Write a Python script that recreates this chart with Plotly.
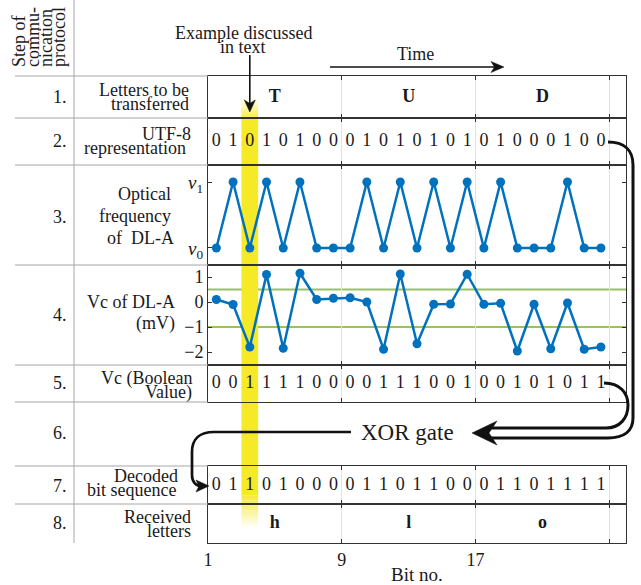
import plotly.graph_objects as go
from plotly.subplots import make_subplots

# ---------------- data ----------------
bit_no = list(range(1, 25))
utf8_bits = [0, 1, 0, 1, 0, 1, 0, 0,
             0, 1, 0, 1, 0, 1, 0, 1,
             0, 1, 0, 0, 0, 1, 0, 0]
vc_mv = [0.10, -0.10, -1.80, 1.10, -1.85, 1.15, 0.10, 0.15,
         0.17, 0.00, -1.89, 1.12, -1.67, -0.09, -0.08, 1.11,
         -0.09, -0.05, -1.96, -0.09, -1.87, -0.04, -1.89, -1.80]
vc_bool = [0, 0, 1, 1, 1, 1, 0, 0,
           0, 0, 1, 1, 1, 0, 0, 1,
           0, 0, 1, 0, 1, 0, 1, 1]
decoded_bits = [0, 1, 1, 0, 1, 0, 0, 0,
                0, 1, 1, 0, 1, 1, 0, 0,
                0, 1, 1, 0, 1, 1, 1, 1]
sent_letters = ["T", "U", "D"]
received_letters = ["h", "l", "o"]
thresholds_mv = [0.5, -1.0]
example_bit = 3
x_ticks = [1, 9, 17, 25]
x_ticktext = ["1", "9", "17", " "]

row_numbers = ["1.", "2.", "3.", "4.", "5.", "6.", "7.", "8."]

# ---------------- layout constants ----------------
W, H = 641, 585
ML, MR, MT, MB = 208, 15, 76, 42
PW, PH = W - ML - MR, H - MT - MB
SERIF = "Liberation Serif"
INK = "#1a1a1a"
BLUE = "#0072BD"
FS = 18
row_px = [42, 47, 100, 100, 37, 64, 38, 39]
bounds = [MT]
for h in row_px:
    bounds.append(bounds[-1] + h)


def px(x):
    return (x - ML) / PW


def py(y):
    return (H - MB - y) / PH


def P(x, y):
    return f"{px(x):.5f},{py(y):.5f}"


def data_px(xv):
    return ML + (xv - 1) / 25 * PW


xpos = [b + 0.5 for b in bit_no]
letter_x = [sum(xpos[8 * i:8 * i + 8]) / 8 for i in range(3)]

fig = make_subplots(rows=8, cols=1, shared_xaxes=True, vertical_spacing=0,
                    row_heights=row_px)


def text_row(vals, row, size=FS, bold=False, x=None):
    t = [f"<b>{v}</b>" if bold else str(v) for v in vals]
    fig.add_trace(go.Scatter(x=x if x is not None else xpos, y=[0.5] * len(vals),
                             mode="text", text=t, textposition="middle center",
                             textfont=dict(family=SERIF, size=size, color=INK),
                             hoverinfo="skip", showlegend=False), row=row, col=1)


text_row(sent_letters, 1, size=18, bold=True, x=letter_x)
text_row(utf8_bits, 2)
fig.add_trace(go.Scatter(x=xpos, y=utf8_bits, mode="lines+markers",
                         line=dict(color=BLUE, width=2.5),
                         marker=dict(color=BLUE, size=9),
                         showlegend=False), row=3, col=1)
fig.add_trace(go.Scatter(x=xpos, y=vc_mv, mode="lines+markers",
                         line=dict(color=BLUE, width=2.5),
                         marker=dict(color=BLUE, size=9),
                         showlegend=False), row=4, col=1)
for t in thresholds_mv:
    fig.add_hline(y=t, row=4, col=1, layer="below",
                  line=dict(color="rgba(119,172,48,0.75)", width=2))
text_row(vc_bool, 5)
text_row(decoded_bits, 7)
text_row(received_letters, 8, size=18, bold=True, x=letter_x)

# ---------------- axes ----------------
for i in range(1, 9):
    fig.update_xaxes(row=i, col=1, range=[1, 26], tickvals=x_ticks, ticktext=x_ticktext,
                     ticks="inside", ticklen=4, tickcolor="#333",
                     showline=True, linecolor="#333", linewidth=1, mirror="ticks",
                     showgrid=True, gridcolor="#e2e2e2", gridwidth=1, zeroline=False,
                     showticklabels=(i == 8),
                     tickfont=dict(family=SERIF, size=FS, color=INK))
    if i in (3, 4):
        continue
    fig.update_yaxes(row=i, col=1, range=[0, 1], showticklabels=False, ticks="",
                     showgrid=False, zeroline=False, showline=True,
                     linecolor="#333", mirror=True)

fig.update_yaxes(row=3, col=1, range=[-0.258, 1.258], tickvals=[0, 1],
                 ticktext=["<i>ν</i><sub>0</sub>", "<i>ν</i><sub>1</sub>"],
                 ticks="inside", ticklen=4, tickcolor="#333", showline=True,
                 linecolor="#333", mirror="ticks", showgrid=False, zeroline=False,
                 tickfont=dict(family=SERIF, size=19, color=INK))
fig.update_yaxes(row=4, col=1, range=[-2.52, 1.48], tickvals=[-2, -1, 0, 1],
                 ticktext=["−2", "−1", "0", "1"],
                 ticks="inside", ticklen=4, tickcolor="#333", showline=True,
                 linecolor="#333", mirror="ticks", showgrid=False, zeroline=False,
                 tickfont=dict(family=SERIF, size=FS, color=INK))

shapes = []
# ---------------- yellow highlight ----------------
YEL = (246, 233, 40)
top_a, top_b, bot_a, bot_b = 98, 120, 493, 528
shapes.append(dict(type="rect", xref="x", yref="paper", x0=example_bit, x1=example_bit + 1,
                   y0=py(top_b), y1=py(bot_a), fillcolor=f"rgb{YEL}", line_width=0,
                   layer="below"))
n = 14
for k in range(n):
    a = (k + 0.5) / n
    y0 = top_a + (top_b - top_a) * k / n
    y1 = top_a + (top_b - top_a) * (k + 1) / n
    shapes.append(dict(type="rect", xref="x", yref="paper", x0=example_bit, x1=example_bit + 1,
                       y0=py(y1), y1=py(y0), fillcolor=f"rgba({YEL[0]},{YEL[1]},{YEL[2]},{a:.3f})",
                       line_width=0, layer="below"))
    b0 = bot_a + (bot_b - bot_a) * k / n
    b1 = bot_a + (bot_b - bot_a) * (k + 1) / n
    shapes.append(dict(type="rect", xref="x", yref="paper", x0=example_bit, x1=example_bit + 1,
                       y0=py(b1), y1=py(b0), fillcolor=f"rgba({YEL[0]},{YEL[1]},{YEL[2]},{1 - a:.3f})",
                       line_width=0, layer="below"))

# ---------------- left table ----------------
GRAY = "#a6a6a6"
shapes.append(dict(type="line", xref="paper", yref="paper", x0=px(74), x1=px(74),
                   y0=py(0), y1=py(bounds[-1]), line=dict(color=GRAY, width=1)))
for b in bounds[:-1]:
    shapes.append(dict(type="line", xref="paper", yref="paper", x0=px(15), x1=px(ML),
                       y0=py(b), y1=py(b), line=dict(color=GRAY, width=1)))

# ---------------- arrows ----------------
BLK = "#111"
ex_x = data_px(example_bit + 0.5)
shapes.append(dict(type="line", xref="paper", yref="paper", x0=px(ex_x), x1=px(ex_x),
                   y0=py(55), y1=py(106), line=dict(color=BLK, width=1.6)))
shapes.append(dict(type="path", xref="paper", yref="paper",
                   path=f"M{P(ex_x, 112)} L{P(ex_x - 5.5, 100)} L{P(ex_x, 103.5)} L{P(ex_x + 5.5, 100)} Z",
                   fillcolor=BLK, line=dict(color=BLK, width=0.5)))
# time arrow
shapes.append(dict(type="line", xref="paper", yref="paper", x0=px(330), x1=px(496),
                   y0=py(67), y1=py(67), line=dict(color=BLK, width=1.6)))
shapes.append(dict(type="path", xref="paper", yref="paper",
                   path=f"M{P(504, 67)} L{P(491, 61.5)} L{P(494.5, 67)} L{P(491, 72.5)} Z",
                   fillcolor=BLK, line=dict(color=BLK, width=0.5)))
# outer line from UTF-8 row to XOR gate
shapes.append(dict(type="path", xref="paper", yref="paper",
                   path=(f"M{P(608, 142)} C{P(624, 142)} {P(633, 150)} {P(633, 165)} "
                         f"L{P(633, 418)} C{P(633, 431)} {P(624, 438)} {P(608, 438)} L{P(490, 438)}"),
                   line=dict(color=BLK, width=3)))
# inner line from Vc Boolean row
shapes.append(dict(type="path", xref="paper", yref="paper",
                   path=(f"M{P(604, 383)} C{P(620, 383)} {P(628, 393)} {P(628, 405)} "
                         f"C{P(628, 418)} {P(620, 428)} {P(606, 428)} L{P(490, 428)}"),
                   line=dict(color=BLK, width=3)))
shapes.append(dict(type="path", xref="paper", yref="paper",
                   path=f"M{P(472, 433)} L{P(497, 421)} L{P(489, 433)} L{P(497, 445)} Z",
                   fillcolor=BLK, line=dict(color=BLK, width=0.5)))
# from XOR gate to decoded bits
shapes.append(dict(type="path", xref="paper", yref="paper",
                   path=(f"M{P(351, 432)} L{P(214, 432)} C{P(200, 432)} {P(192, 439)} {P(192, 452)} "
                         f"L{P(192, 475)} C{P(192, 482)} {P(196, 486)} {P(201, 486)}"),
                   line=dict(color=BLK, width=2.7)))
shapes.append(dict(type="path", xref="paper", yref="paper",
                   path=f"M{P(209, 486)} L{P(196, 480)} L{P(199, 486)} L{P(196, 492)} Z",
                   fillcolor=BLK, line=dict(color=BLK, width=0.5)))

fig.update_layout(shapes=list(fig.layout.shapes) + shapes)


# ---------------- annotations ----------------
def ann(text, x, y, xanchor="right", size=FS, angle=0, yanchor="middle", color=INK):
    fig.add_annotation(xref="paper", yref="paper", x=px(x), y=py(y), text=text,
                       xanchor=xanchor, yanchor=yanchor, showarrow=False, textangle=angle,
                       font=dict(family=SERIF, size=size, color=color))


for lbl, cx in zip(["Step of", "commu-", "nication", "protocol"], [19, 33, 46, 59]):
    ann(lbl, cx, 69, xanchor="center", yanchor="bottom", angle=-90, size=18)

row_num_y = [97, 141, 217, 315, 383, 433, 486, 523]
for t, y in zip(row_numbers, row_num_y):
    ann(t, 69, y)

desc = [("Letters to be", 191, 90), ("transferred", 191, 104),
        ("UTF-8", 193, 134), ("representation", 188, 148),
        ("Optical", 173, 194), ("frequency", 173, 216), ("of  DL-A", 176, 238),
        ("Vc of DL-A", 177, 302), ("(mV)", 177, 323),
        ("Vc (Boolean", 194, 378), ("Value)", 194, 392),
        ("Decoded", 180, 476), ("bit sequence", 178, 490),
        ("Received", 193, 517), ("letters", 193, 531)]
for t, x, y in desc:
    ann(t, x, y)

ann("Example discussed", 243, 33, xanchor="center")
ann("in text", 243, 47, xanchor="center")
ann("Time", 415, 54, xanchor="center")
ann("XOR gate", 407, 432, xanchor="center", size=23)
ann("Bit no.", 417, 574, xanchor="center", size=19)

fig.update_layout(width=W, height=H, margin=dict(l=ML, r=MR, t=MT, b=MB),
                  paper_bgcolor="white", plot_bgcolor="rgba(0,0,0,0)",
                  showlegend=False, font=dict(family=SERIF, color=INK))

fig.write_html("out.html", config={"displayModeBar": False},
               post_script="document.body.style.margin='0px';document.body.style.overflow='hidden';")
